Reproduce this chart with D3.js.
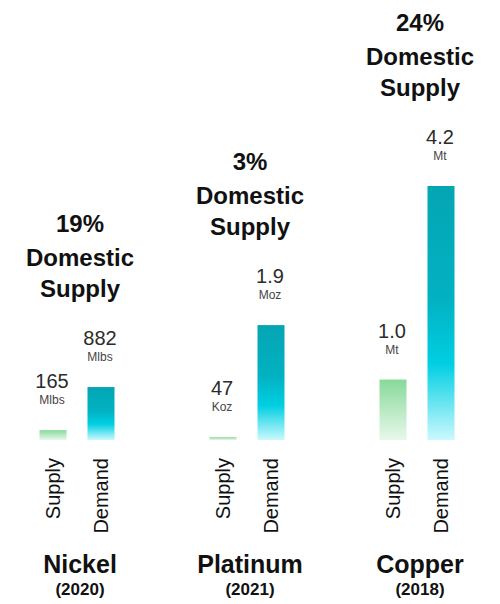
<!DOCTYPE html>
<html>
<head>
<meta charset="utf-8">
<script src="https://cdn.jsdelivr.net/npm/d3@7"></script>
<style>
  html, body { margin: 0; padding: 0; background: #fff; }
  svg { display: block; font-family: Arial, "Liberation Sans", Helvetica, sans-serif; }
</style>
</head>
<body>
<svg id="chart" width="500" height="604"></svg>
<script>
// data
const minerals = ['Nickel', 'Platinum', 'Copper'];
const years = ['(2020)', '(2021)', '(2018)'];
const sharePct = ['19%', '3%', '24%'];
const series = ['Supply', 'Demand'];

// supply / demand in the demand unit of each mineral (47 Koz = 0.047 Moz)
const supplyValues = [165, 0.047, 1.0];
const demandValues = [882, 1.9, 4.2];
const supplyLabels = ['165', '47', '1.0'];
const supplyUnits = ['Mlbs', 'Koz', 'Mt'];
const demandLabels = ['882', '1.9', '4.2'];
const demandUnits = ['Mlbs', 'Moz', 'Mt'];

// each mineral has its own scale top
const scaleMax = [4230, 4.2, 4.2];

const baseY = 440, topY = 186;

const svg = d3.select('#chart');

// gradients
const defs = svg.append('defs');
const gSup = defs.append('linearGradient').attr('id', 'grad-supply')
  .attr('x1', 0).attr('y1', 0).attr('x2', 0).attr('y2', 1);
gSup.append('stop').attr('offset', '0%').attr('stop-color', '#88d99a');
gSup.append('stop').attr('offset', '100%').attr('stop-color', '#e8f8eb');

const gDem = defs.append('linearGradient').attr('id', 'grad-demand')
  .attr('x1', 0).attr('y1', 0).attr('x2', 0).attr('y2', 1);
gDem.append('stop').attr('offset', '0%').attr('stop-color', '#04a5b3');
gDem.append('stop').attr('offset', '45%').attr('stop-color', '#02b2c2');
gDem.append('stop').attr('offset', '70%').attr('stop-color', '#00cfe2');
gDem.append('stop').attr('offset', '100%').attr('stop-color', '#cbf9fe');

// scales
const x0 = d3.scaleBand().domain(minerals).range([-8, 502]);
const x1 = d3.scaleBand().domain(series).range([0, 75]).paddingInner(0.4375);

const rows = minerals.map((m, i) => ({
  mineral: m,
  year: years[i],
  pct: sharePct[i],
  y: d3.scaleLinear().domain([0, scaleMax[i]]).range([baseY, topY]),
  bars: [
    { key: 'Supply', value: supplyValues[i], label: supplyLabels[i], unit: supplyUnits[i] },
    { key: 'Demand', value: demandValues[i], label: demandLabels[i], unit: demandUnits[i] }
  ]
}));

const group = svg.selectAll('g.group')
  .data(rows)
  .join('g')
  .attr('class', 'group')
  .attr('transform', d => `translate(${x0(d.mineral) + x0.bandwidth() / 2},0)`);

// bars + value labels
group.each(function (row) {
  const g = d3.select(this);
  const left = -37.5;

  const bar = g.selectAll('g.bar')
    .data(row.bars)
    .join('g')
    .attr('class', 'bar')
    .attr('transform', b => `translate(${left + x1(b.key)},0)`);

  bar.append('rect')
    .attr('x', 0)
    .attr('width', x1.bandwidth())
    .attr('y', b => row.y(b.value))
    .attr('height', b => baseY - row.y(b.value))
    .attr('fill', b => b.key === 'Supply' ? 'url(#grad-supply)' : 'url(#grad-demand)');

  bar.append('text')
    .attr('x', x1.bandwidth() / 2 - 1)
    .attr('y', b => row.y(b.value) - 42)
    .attr('text-anchor', 'middle')
    .attr('font-size', 20)
    .attr('fill', '#2b2b2b')
    .text(b => b.label);

  bar.append('text')
    .attr('x', x1.bandwidth() / 2 - 1)
    .attr('y', b => row.y(b.value) - 26)
    .attr('text-anchor', 'middle')
    .attr('font-size', 12)
    .attr('fill', '#444')
    .text(b => b.unit);

  // axis-style category labels, rotated
  bar.append('text')
    .attr('transform', `translate(${x1.bandwidth() / 2 + 7},458) rotate(-90)`)
    .attr('text-anchor', 'end')
    .attr('font-size', 20)
    .attr('fill', '#111')
    .text(b => b.key);

  // headline above the demand bar
  const demTop = row.y(row.bars[1].value);
  const head = g.append('text')
    .attr('text-anchor', 'middle')
    .attr('font-size', 24)
    .attr('font-weight', 'bold')
    .attr('fill', '#111');
  head.append('tspan').attr('x', 3).attr('y', demTop - 155).text(row.pct);
  head.append('tspan').attr('x', 3).attr('y', demTop - 121).text('Domestic');
  head.append('tspan').attr('x', 3).attr('y', demTop - 90).text('Supply');
});

// mineral names + years
group.append('text')
  .attr('x', 3)
  .attr('y', 573)
  .attr('text-anchor', 'middle')
  .attr('font-size', 25)
  .attr('font-weight', 'bold')
  .attr('fill', '#111')
  .text(d => d.mineral);

group.append('text')
  .attr('x', 3)
  .attr('y', 595)
  .attr('text-anchor', 'middle')
  .attr('font-size', 17)
  .attr('font-weight', 'bold')
  .attr('fill', '#111')
  .text(d => d.year);
</script>
</body>
</html>
